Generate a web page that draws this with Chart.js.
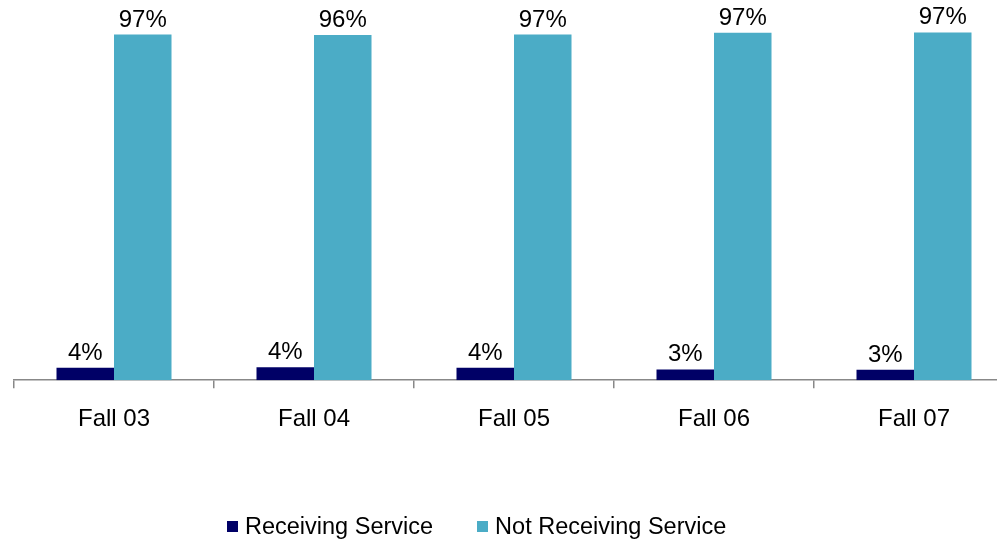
<!DOCTYPE html>
<html>
<head>
<meta charset="utf-8">
<script src="https://cdn.jsdelivr.net/npm/chart.js@4"></script>
<style>
  html, body { margin: 0; padding: 0; background: #fff; overflow: hidden; }
  #wrap { position: relative; width: 1020px; height: 539px; }
  #legend {
    position: absolute; left: 227px; top: 514px;
    font: 23.5px "Liberation Sans", Arial, sans-serif; color: #000;
    display: flex; line-height: 24px; white-space: nowrap;
  }
  #legend .item { display: flex; align-items: center; margin-right: 44px; }
  #legend .box { width: 11px; height: 11px; margin-right: 7px; }
</style>
</head>
<body>
<div id="wrap">
  <canvas id="myChart"></canvas>
  <div id="legend"></div>
</div>
<script>
const categories = ['Fall 03', 'Fall 04', 'Fall 05', 'Fall 06', 'Fall 07'];
const receiving = [3.5, 3.6, 3.5, 3.0, 2.9];
const notReceiving = [96.5, 96.4, 96.5, 97.0, 97.1];
const seriesNames = ['Receiving Service', 'Not Receiving Service'];
const seriesColors = ['#000066', '#4BACC6'];

const FONT = '"Liberation Sans", Arial, sans-serif';

// percent labels above each bar
const valueLabels = {
  id: 'valueLabels',
  afterDatasetsDraw(chart) {
    const ctx = chart.ctx;
    ctx.save();
    ctx.font = '24px ' + FONT;
    ctx.fillStyle = '#000';
    ctx.textAlign = 'center';
    ctx.textBaseline = 'alphabetic';
    chart.data.datasets.forEach((ds, i) => {
      chart.getDatasetMeta(i).data.forEach((bar, j) => {
        ctx.fillText(Math.round(ds.data[j]) + '%', bar.x, bar.y - 8);
      });
    });
    ctx.restore();
  }
};

var ctx = document.getElementById('myChart').getContext('2d');
var chart = new Chart(ctx, {
  type: 'bar',
  data: {
    labels: categories,
    datasets: [
      { label: seriesNames[0], data: receiving, backgroundColor: seriesColors[0] },
      { label: seriesNames[1], data: notReceiving, backgroundColor: seriesColors[1] }
    ]
  },
  options: {
    responsive: true,
    maintainAspectRatio: false,
    animation: false,
    layout: { padding: { left: 14, right: 6, top: 22, bottom: 88 } },
    datasets: { bar: { barPercentage: 1, categoryPercentage: 0.575 } },
    plugins: { legend: { display: false }, tooltip: { enabled: false } },
    scales: {
      x: {
        grid: { drawOnChartArea: false, tickLength: 8, color: '#888', lineWidth: 1.5 },
        border: { color: '#888', width: 1.5 },
        ticks: { color: '#000', padding: 17, font: { size: 24, family: FONT } }
      },
      y: { display: false, min: 0, max: 100 }
    }
  },
  plugins: [valueLabels]
});

// legend built from the datasets
var leg = document.getElementById('legend');
chart.data.datasets.forEach(function (ds) {
  var item = document.createElement('span');
  item.className = 'item';
  item.innerHTML = '<span class="box" style="background:' + ds.backgroundColor + '"></span>' + ds.label;
  leg.appendChild(item);
});
</script>
</body>
</html>
